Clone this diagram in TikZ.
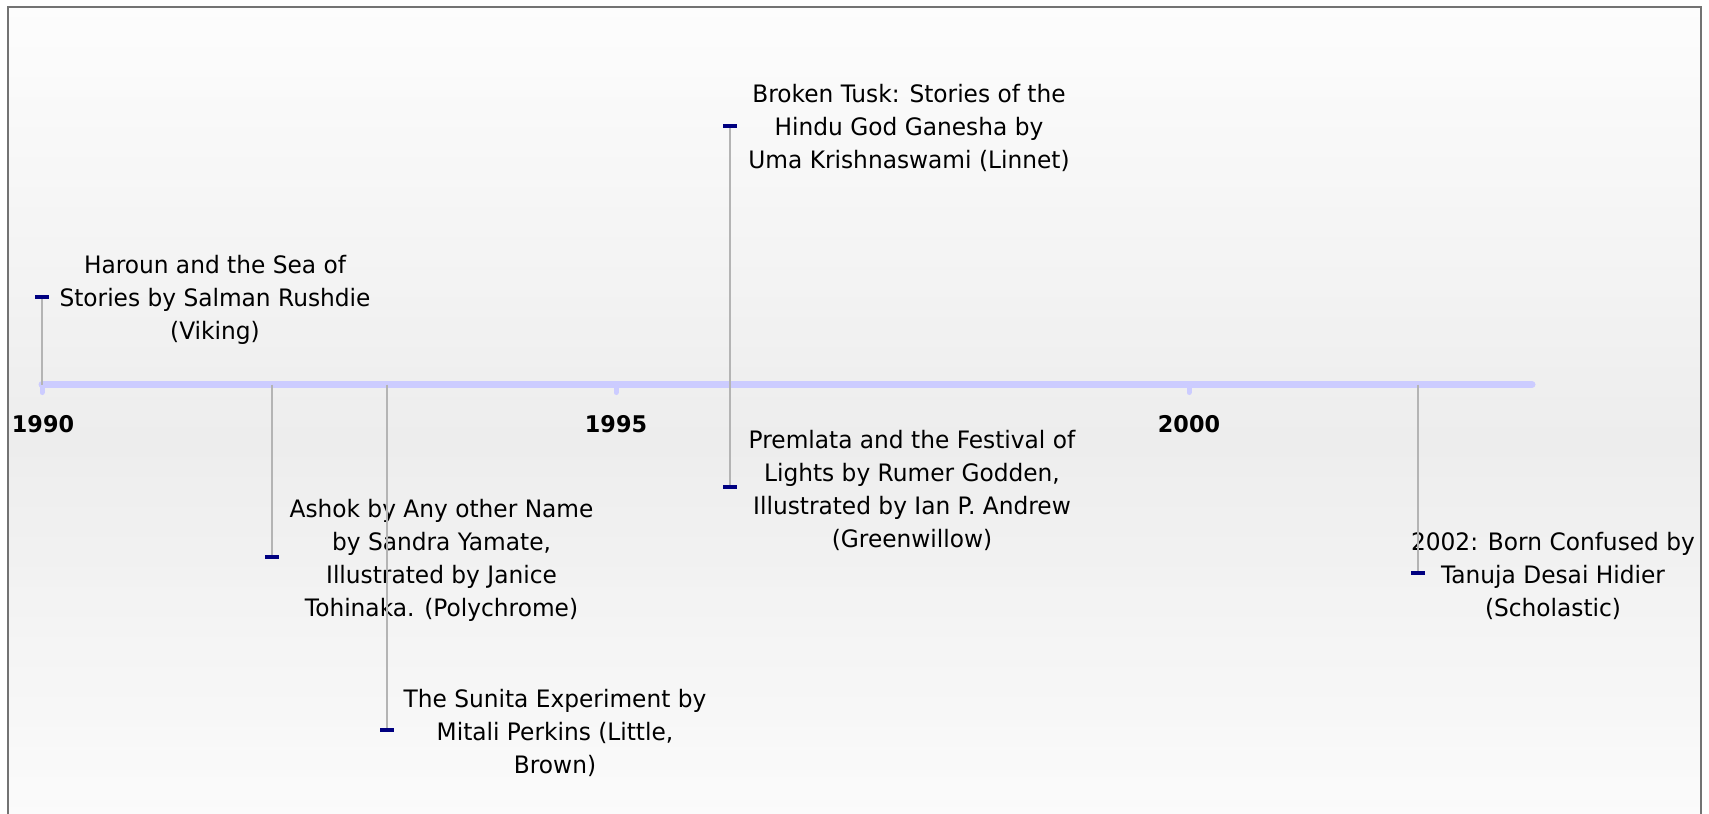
\documentclass[tikz,border=0pt]{standalone}
\usepackage{fontspec}
\setmainfont{DejaVu Sans}[FakeStretch=0.97]
\definecolor{axisc}{HTML}{CCCCFF}
\definecolor{stemc}{HTML}{B4B4B4}
\definecolor{navyc}{HTML}{000080}
\definecolor{bgl}{HTML}{FDFDFD}
\definecolor{bgm}{HTML}{EDEDED}
\definecolor{framec}{HTML}{737373}
\begin{document}
\begin{tikzpicture}[x=1pt,y=-1pt,
  lbl/.style={font=\fontsize{24}{33}\selectfont, align=center, inner sep=0pt, text=black},
  yr/.style={font=\fontsize{23}{27}\selectfont\bfseries, inner sep=0pt, text=black},
  axisline/.style={line width=7pt, draw=axisc, line cap=round},
  tickmark/.style={line width=5pt, draw=axisc, line cap=round},
  stem/.style={line width=2pt, draw=stemc},
  marker/.style={rectangle, fill=navyc, draw=none, minimum width=14pt, minimum height=3.5pt, inner sep=0pt}]

\useasboundingbox (0,0) rectangle (1709,814);
\clip (0,0) rectangle (1709,814);
\fill[white] (0,0) rectangle (1709,814);
% background gradient in strips
\foreach \i in {0,...,81} {
  \pgfmathsetmacro\yy{7+\i*10}
  \pgfmathsetmacro\pp{max(0,100*(1-abs(\yy+5-440)/433))}
  \fill[bgm!\pp!bgl] (8,\yy) rectangle (1701,\yy+10.6);
}
\draw[line width=2pt, draw=framec] (8,7) rectangle (1701,900);

% axis
\coordinate (ax0) at (42,384.5);
\coordinate (ax1) at (1532,384.5);
\draw[axisline] (ax0) -- (ax1);
\coordinate (t1990) at (42,384.5);
\coordinate (t1995) at (616,384.5);
\coordinate (t2000) at (1189,384.5);
\foreach \t in {t1990,t1995,t2000} \draw[tickmark] (\t) -- ++(0,8);
\node[yr] (y1990) at (43,424) {1990};
\node[yr] (y1995) at (616,424) {1995};
\node[yr] (y2000) at (1189,424) {2000};

% anchor points
\coordinate (a1) at (42,384.5);   \coordinate (p1) at (42,297);
\coordinate (a2) at (272,384.5);  \coordinate (p2) at (272,557);
\coordinate (a3) at (387,384.5);  \coordinate (p3) at (387,730);
\coordinate (a4) at (730,384.5);  \coordinate (p4) at (730,126);
                                  \coordinate (p5) at (730,487);
\coordinate (a6) at (1418,384.5); \coordinate (p6) at (1418,573);

% labels
\node[lbl] (e1) at (215,300) {Haroun and the Sea of\\Stories by Salman Rushdie\\(Viking)};
\node[lbl] (e2) at (441.5,560) {Ashok by Any other Name\\by Sandra Yamate,\\Illustrated by Janice\\Tohinaka. (Polychrome)};
\node[lbl] (e3) at (555,733) {The Sunita Experiment by\\Mitali Perkins (Little,\\Brown)};
\node[lbl] (e4) at (909,128) {Broken Tusk: Stories of the\\Hindu God Ganesha by\\Uma Krishnaswami (Linnet)};
\node[lbl] (e5) at (912,490) {Premlata and the Festival of\\Lights by Rumer Godden,\\Illustrated by Ian P. Andrew\\(Greenwillow)};
\node[lbl] (e6) at (1553,576) {2002: Born Confused by\\Tanuja Desai Hidier\\(Scholastic)};

% stems
\draw[stem] (a1) -- (p1);
\draw[stem] (a2) -- (p2);
\draw[stem] (a3) -- (p3);
\draw[stem] (a4) -- (p4);
\draw[stem] (a4) -- (p5);
\draw[stem] (a6) -- (p6);

% markers
\node[marker] (m1) at (p1) {};
\node[marker] (m2) at (p2) {};
\node[marker] (m3) at (p3) {};
\node[marker] (m4) at (p4) {};
\node[marker] (m5) at (p5) {};
\node[marker] (m6) at (p6) {};
\end{tikzpicture}
\end{document}
